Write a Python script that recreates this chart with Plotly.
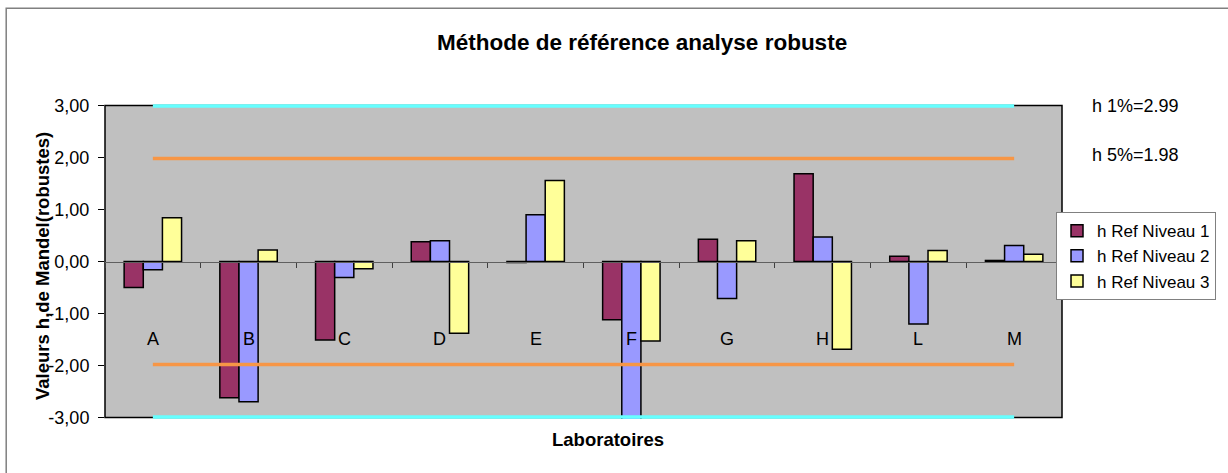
import plotly.graph_objects as go

labs = ["A", "B", "C", "D", "E", "F", "G", "H", "L", "M"]
niveau1 = [-0.50, -2.62, -1.51, 0.38, -0.02, -1.12, 0.43, 1.69, 0.10, 0.02]
niveau2 = [-0.16, -2.70, -0.31, 0.40, 0.90, -3.05, -0.71, 0.47, -1.20, 0.31]
niveau3 = [0.84, 0.22, -0.14, -1.38, 1.56, -1.53, 0.40, -1.69, 0.21, 0.14]
series_names = ["h Ref Niveau 1", "h Ref Niveau 2", "h Ref Niveau 3"]
series_colors = ["#993366", "#9999FF", "#FFFF99"]
h1 = 2.99
h5 = 1.98
ytickvals = [3, 2, 1, 0, -1, -2, -3]
yticktext = ["3,00", "2,00", "1,00", "0,00", "-1,00", "-2,00", "-3,00"]

FONT = "Arial, Liberation Sans, sans-serif"
W, H = 1228, 473
ML, MR, MT, MB = 105, 164, 103.5, 53.5
PW, PH = W - ML - MR, H - MT - MB


def px(x):
    return (x - ML) / PW


def py(y):
    return (H - MB - y) / PH


fig = go.Figure()

for name, vals, col in zip(series_names, [niveau1, niveau2, niveau3], series_colors):
    fig.add_trace(go.Bar(x=labs, y=vals, name=name,
                         marker=dict(color=col, line=dict(color="black", width=1.5))))

# threshold lines (drawn from first to last laboratory)
for val, col in [(h1, "#66FFFF"), (-h1, "#66FFFF"), (h5, "#F79646"), (-h5, "#F79646")]:
    fig.add_trace(go.Scatter(x=[labs[0], labs[-1]], y=[val, val], mode="lines",
                             line=dict(color=col, width=3.5), showlegend=False,
                             hoverinfo="skip"))

# category labels inside plot
for lab in labs:
    fig.add_annotation(x=lab, y=-1.5, xref="x", yref="y", text=lab, showarrow=False,
                       xanchor="center", yanchor="middle",
                       font=dict(family=FONT, size=18, color="black"))

fig.add_annotation(x=px(643), y=py(42), xref="paper", yref="paper",
                   xanchor="center", yanchor="middle",
                   text="<b>Méthode de référence analyse robuste</b>", showarrow=False,
                   font=dict(family=FONT, size=22.5, color="black"))
fig.add_annotation(x=px(609), y=py(440), xref="paper", yref="paper",
                   xanchor="center", yanchor="middle",
                   text="<b>Laboratoires</b>", showarrow=False,
                   font=dict(family=FONT, size=18.5, color="black"))
fig.add_annotation(x=px(43), y=py(266), xref="paper", yref="paper", textangle=-90,
                   xanchor="center", yanchor="middle",
                   text="<b>Valeurs h,de Mandel(robustes)</b>", showarrow=False,
                   font=dict(family=FONT, size=18.5, color="black"))
fig.add_annotation(x=px(1092), y=h1, xref="paper", yref="y", xanchor="left", yanchor="middle",
                   text="h 1%%=%.2f" % h1, showarrow=False,
                   font=dict(family=FONT, size=18, color="black"))
fig.add_annotation(x=px(1092), y=h5, xref="paper", yref="y", xanchor="left", yanchor="middle",
                   yshift=4, text="h 5%%=%.2f" % h5, showarrow=False,
                   font=dict(family=FONT, size=18, color="black"))

# plot area background + frame (at the axis limits -3 / 3)
fig.add_shape(type="rect", xref="paper", yref="y", x0=0, x1=1, y0=ytickvals[-1], y1=ytickvals[0],
              fillcolor="#C0C0C0", line=dict(color="black", width=1.5), layer="below")
# outer chart frame
fig.add_shape(type="rect", xref="paper", yref="paper", x0=px(6), x1=1.3, y0=-0.3, y1=py(7.5),
              fillcolor="rgba(0,0,0,0)", line=dict(color="#808080", width=1.5), layer="below")

fig.update_layout(
    width=W, height=H,
    margin=dict(l=ML, r=MR, t=MT, b=MB),
    paper_bgcolor="white", plot_bgcolor="rgba(0,0,0,0)",
    barmode="group", bargap=0.4, bargroupgap=0,
    font=dict(family=FONT, size=17, color="black"),
    legend=dict(x=px(1058), xanchor="left", y=py(212), yanchor="top",
                bordercolor="#808080", borderwidth=1, bgcolor="white",
                font=dict(family=FONT, size=17, color="black")),
    xaxis=dict(type="category", categoryorder="array", categoryarray=labs,
               range=[-0.5, 9.5], anchor="free", position=0.5,
               showline=True, linecolor="#606060", linewidth=1,
               ticks="outside", tickson="boundaries", ticklen=5, tickcolor="#404040",
               showticklabels=False, showgrid=False, zeroline=False),
    xaxis2=dict(overlaying="x", range=[-0.5, 9.5], anchor="free", position=0.5,
                tick0=-0.5, dtick=1, ticks="inside", ticklen=5, tickcolor="#404040",
                showticklabels=False, showgrid=False, zeroline=False, showline=False),
    yaxis=dict(range=[-3.03, 3.03], tickvals=ytickvals, ticktext=yticktext,
               ticks="outside", ticklen=6, tickcolor="black", showgrid=False,
               zeroline=False, showline=False, ticklabelstandoff=5,
               tickfont=dict(family=FONT, size=18, color="black")),
)

fig.write_html("out.html", config={"displayModeBar": False},
               post_script="document.body.style.margin='0';")
